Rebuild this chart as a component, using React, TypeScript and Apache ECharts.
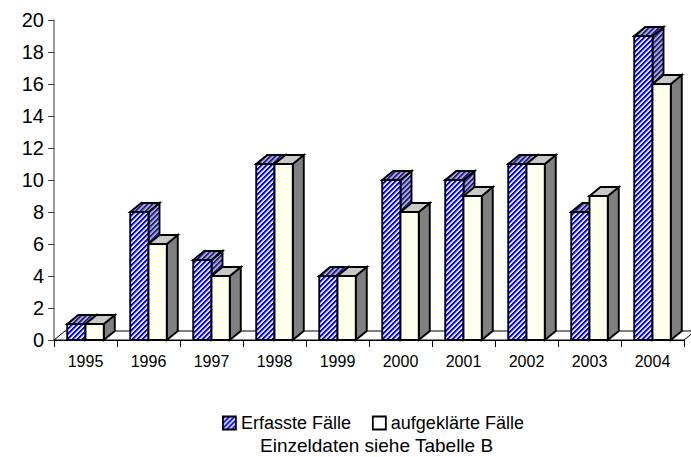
import React, { useEffect, useRef } from "react";
import * as echarts from "echarts";

const years = ["1995", "1996", "1997", "1998", "1999", "2000", "2001", "2002", "2003", "2004"];
const erfasst = [1, 8, 5, 11, 4, 10, 10, 11, 8, 19];
const aufgeklaert = [1, 6, 4, 11, 4, 8, 9, 11, 9, 16];
const seriesNames = ["Erfasste Fälle", "aufgeklärte Fälle"];
const yMin = 0;
const yMax = 20;
const yInterval = 2;
const footnote = "Einzeldaten siehe Tabelle B";

const FONT = "'Liberation Sans', Arial, sans-serif";
const DX = 11;
const DY = 9;

function makeHatch(dark: string, mid: string, light: string, n = 5): HTMLCanvasElement {
  const c = document.createElement("canvas");
  c.width = n;
  c.height = n;
  const ctx = c.getContext("2d")!;
  for (let x = 0; x < n; x++) {
    for (let y = 0; y < n; y++) {
      const k = (x + y) % n;
      ctx.fillStyle = k < 2 ? dark : k === 2 ? mid : light;
      ctx.fillRect(x, y, 1, 1);
    }
  }
  return c;
}

export default function App() {
  const ref = useRef<HTMLDivElement>(null);

  useEffect(() => {
    document.body.style.margin = "0";
    if (!ref.current) return;
    const chart = echarts.init(ref.current, undefined, { renderer: "svg" });

    const frontBlue = { image: makeHatch("#0000ff", "#7070ff", "#e4e4ff"), repeat: "repeat" } as any;
    const darkBlue = { image: makeHatch("#20209a", "#6a6aa8", "#a8a8bc"), repeat: "repeat" } as any;
    const cream = "#ffffee";
    const whiteTop = "#c8c8c8";
    const whiteSide = "#808080";

    const barRenderer = (which: number) => (params: any, api: any) => {
      const cat = api.value(0);
      const v = api.value(1);
      const base = api.coord([cat, 0]);
      const top = api.coord([cat, v]);
      const bw = api.size([1, 0])[0] * 0.29;
      const xl = which === 0 ? base[0] - bw : base[0];
      const xr = xl + bw;
      const ty = top[1];
      const by = base[1];
      const frontFill = which === 0 ? frontBlue : cream;
      const topFill = which === 0 ? darkBlue : whiteTop;
      const sideFill = which === 0 ? darkBlue : whiteSide;
      const stroke = { stroke: "#000", lineWidth: 1.9, lineJoin: "miter" };
      return {
        type: "group",
        children: [
          {
            type: "polygon",
            shape: { points: [[xr, ty], [xr + DX, ty - DY], [xr + DX, by - DY], [xr, by]] },
            style: { fill: sideFill, ...stroke },
          },
          {
            type: "polygon",
            shape: { points: [[xl, ty], [xl + DX, ty - DY], [xr + DX, ty - DY], [xr, ty]] },
            style: { fill: topFill, ...stroke },
          },
          {
            type: "polygon",
            shape: { points: [[xl, ty], [xr, ty], [xr, by], [xl, by]] },
            style: { fill: frontFill, ...stroke },
          },
        ],
      };
    };

    const floorRenderer = (params: any, api: any) => {
      const cs = params.coordSys;
      const x0 = cs.x;
      const x1 = cs.x + cs.width;
      const yb = cs.y + cs.height;
      return {
        type: "polygon",
        shape: { points: [[x0, yb], [x0 + DX, yb - DY], [x1 + DX, yb - DY], [x1, yb]] },
        style: { fill: "#fff", stroke: "#000", lineWidth: 1 },
      };
    };

    chart.setOption({
      animation: false,
      textStyle: { fontFamily: FONT },
      grid: { left: 54, right: 7, top: 20, bottom: 117 },
      title: {
        text: footnote,
        left: 255,
        top: 431,
        textStyle: { fontFamily: FONT, fontSize: 19, fontWeight: "normal", color: "#000" },
      },
      legend: {
        left: 222,
        top: 414,
        padding: 0,
        itemGap: 21,
        itemWidth: 13,
        itemHeight: 13,
        textStyle: { fontFamily: FONT, fontSize: 18, color: "#000" },
        data: [
          { name: seriesNames[0], icon: "rect", itemStyle: { color: frontBlue, borderColor: "#000", borderWidth: 1.8 } },
          { name: seriesNames[1], icon: "rect", itemStyle: { color: "#fff", borderColor: "#000", borderWidth: 1.8 } },
        ],
      },
      xAxis: {
        type: "category",
        data: years,
        axisLine: { show: true, lineStyle: { color: "#000", width: 1 } },
        axisTick: { show: true, length: 7, lineStyle: { color: "#000" } },
        axisLabel: { fontFamily: FONT, fontSize: 16, color: "#000", margin: 13 },
        splitLine: { show: false },
      },
      yAxis: {
        type: "value",
        min: yMin,
        max: yMax,
        interval: yInterval,
        axisLine: { show: true, lineStyle: { color: "#808080", width: 1.6 } },
        axisTick: { show: true, length: 6, lineStyle: { color: "#444" } },
        axisLabel: { fontFamily: FONT, fontSize: 20, color: "#000", margin: 10 },
        splitLine: { show: false },
      },
      series: [
        {
          type: "custom",
          name: "floor",
          silent: true,
          renderItem: floorRenderer,
          data: [[0, 0]],
          z: 1,
        },
        {
          type: "custom",
          name: seriesNames[0],
          renderItem: barRenderer(0),
          encode: { x: 0, y: 1 },
          data: erfasst.map((v, i) => [i, v]),
          itemStyle: { color: "#0000ff" },
          z: 2,
        },
        {
          type: "custom",
          name: seriesNames[1],
          renderItem: barRenderer(1),
          encode: { x: 0, y: 1 },
          data: aufgeklaert.map((v, i) => [i, v]),
          itemStyle: { color: "#fff" },
          z: 3,
        },
      ],
    });

    return () => chart.dispose();
  }, []);

  return <div ref={ref} style={{ width: 691, height: 457 }} />;
}
